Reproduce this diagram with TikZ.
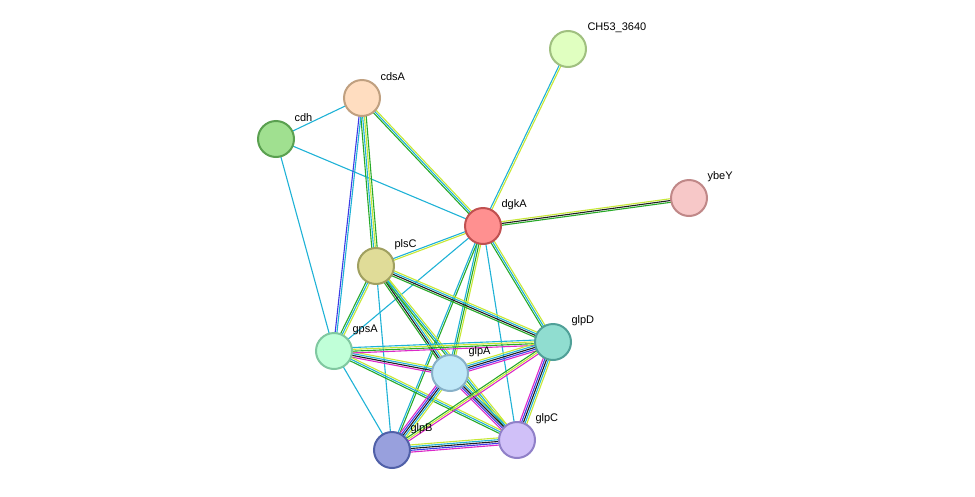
\documentclass[tikz,border=0pt]{standalone}
\usepackage{fontspec}
\setsansfont{Liberation Sans}
\usetikzlibrary{calc}
\definecolor{tmYel}{RGB}{199,232,54}
\definecolor{dbCyan}{RGB}{31,178,214}
\definecolor{nbGreen}{RGB}{40,170,40}
\definecolor{exMag}{RGB}{220,40,200}
\definecolor{coBlue}{RGB}{60,60,230}
\definecolor{cxBlack}{RGB}{30,30,30}
\tikzset{
    prot/.style={circle, minimum size=36pt, inner sep=0pt, line width=2pt},
    plabel/.style={font=\sffamily\fontsize{11}{13}\selectfont, anchor=west},
    chan/.style={line width=1.1pt}
}
% parallel channels between two proteins
\newcommand{\lnk}[4]{%
  \foreach \cc [count=\i] in {#4}{
    \pgfmathsetmacro{\off}{(\i-(#3+1)/2)*1.8}
    \draw[chan, \cc] ($(#1)!\off pt!90:(#2)$) -- ($(#2)!\off pt!-90:(#1)$);
  }}
\begin{document}
\begin{tikzpicture}[x=1pt, y=-1pt]
  \useasboundingbox (0,0) rectangle (975,496);

  % coordinates of proteins
  \coordinate (ch) at (568,49);
  \coordinate (cds) at (362,98);
  \coordinate (cdh) at (276,139);
  \coordinate (dgk) at (483,226);
  \coordinate (ybe) at (689,198);
  \coordinate (pls) at (376,266);
  \coordinate (gps) at (334,351);
  \coordinate (gla) at (450,373);
  \coordinate (gld) at (553,342);
  \coordinate (glb) at (392,450);
  \coordinate (glc) at (517,440);

  % Edges
  \lnk{ch}{dgk}{2}{dbCyan,tmYel}
  \lnk{cds}{cdh}{1}{dbCyan}
  \lnk{cdh}{dgk}{1}{dbCyan}
  \lnk{cdh}{gps}{1}{dbCyan}
  \lnk{cds}{dgk}{3}{nbGreen,dbCyan,tmYel}
  \lnk{cds}{pls}{4}{nbGreen,dbCyan,tmYel,nbGreen}
  \lnk{cds}{gps}{2}{coBlue,dbCyan}
  \lnk{dgk}{ybe}{3}{nbGreen,cxBlack,tmYel}
  \lnk{dgk}{pls}{2}{dbCyan,tmYel}
  \lnk{dgk}{gps}{1}{dbCyan}
  \lnk{dgk}{gla}{3}{dbCyan,nbGreen,tmYel}
  \lnk{dgk}{gld}{3}{nbGreen,dbCyan,tmYel}
  \lnk{dgk}{glb}{2}{dbCyan,nbGreen}
  \lnk{dgk}{glc}{1}{dbCyan}
  \lnk{pls}{gps}{3}{nbGreen,dbCyan,tmYel}
  \lnk{pls}{gla}{4}{nbGreen,cxBlack,dbCyan,tmYel}
  \lnk{pls}{gld}{4}{nbGreen,cxBlack,dbCyan,tmYel}
  \lnk{pls}{glb}{1}{dbCyan}
  \lnk{pls}{glc}{3}{nbGreen,dbCyan,tmYel}
  \lnk{gps}{gla}{4}{exMag,cxBlack,dbCyan,tmYel}
  \lnk{gps}{gld}{4}{exMag,nbGreen,tmYel,dbCyan}
  \lnk{gps}{glb}{1}{dbCyan}
  \lnk{gps}{glc}{3}{nbGreen,dbCyan,tmYel}
  \lnk{gla}{gld}{5}{exMag,coBlue,cxBlack,dbCyan,tmYel}
  \lnk{gla}{glb}{5}{exMag,coBlue,cxBlack,dbCyan,tmYel}
  \lnk{gla}{glc}{5}{exMag,coBlue,cxBlack,dbCyan,tmYel}
  \lnk{gld}{glb}{3}{nbGreen,tmYel,exMag}
  \lnk{gld}{glc}{5}{exMag,coBlue,cxBlack,dbCyan,tmYel}
  \lnk{glb}{glc}{5}{exMag,coBlue,cxBlack,dbCyan,tmYel}

  % Proteins
  \node[prot, fill={rgb,255:red,224;green,255;blue,192}, draw={rgb,255:red,160;green,192;blue,128}] (chN) at (ch) {};
  \node[prot, fill={rgb,255:red,255;green,221;blue,192}, draw={rgb,255:red,192;green,160;blue,128}] (cdsN) at (cds) {};
  \node[prot, fill={rgb,255:red,160;green,224;blue,144}, draw={rgb,255:red,90;green,160;blue,80}] (cdhN) at (cdh) {};
  \node[prot, fill={rgb,255:red,255;green,144;blue,144}, draw={rgb,255:red,192;green,80;blue,80}] (dgkN) at (dgk) {};
  \node[prot, fill={rgb,255:red,247;green,200;blue,200}, draw={rgb,255:red,192;green,136;blue,136}] (ybeN) at (ybe) {};
  \node[prot, fill={rgb,255:red,224;green,220;blue,152}, draw={rgb,255:red,160;green,160;blue,96}] (plsN) at (pls) {};
  \node[prot, fill={rgb,255:red,192;green,255;blue,216}, draw={rgb,255:red,128;green,200;blue,160}] (gpsN) at (gps) {};
  \node[prot, fill={rgb,255:red,192;green,232;blue,248}, draw={rgb,255:red,136;green,176;blue,200}] (glaN) at (gla) {};
  \node[prot, fill={rgb,255:red,144;green,221;blue,208}, draw={rgb,255:red,80;green,160;blue,152}] (gldN) at (gld) {};
  \node[prot, fill={rgb,255:red,152;green,160;blue,221}, draw={rgb,255:red,80;green,96;blue,168}] (glbN) at (glb) {};
  \node[prot, fill={rgb,255:red,208;green,192;blue,248}, draw={rgb,255:red,144;green,128;blue,200}] (glcN) at (glc) {};

  % Labels
  \node[plabel] at ($(ch)+(16,-21)$) {CH53\_3640};
  \node[plabel] at ($(cds)+(15,-21)$) {cdsA};
  \node[plabel] at ($(cdh)+(15,-21)$) {cdh};
  \node[plabel] at ($(dgk)+(15,-21)$) {dgkA};
  \node[plabel] at ($(ybe)+(15,-21)$) {ybeY};
  \node[plabel] at ($(pls)+(15,-21)$) {plsC};
  \node[plabel] at ($(gps)+(15,-21)$) {gpsA};
  \node[plabel] at ($(gla)+(15,-21)$) {glpA};
  \node[plabel] at ($(gld)+(15,-21)$) {glpD};
  \node[plabel] at ($(glb)+(15,-21)$) {glpB};
  \node[plabel] at ($(glc)+(15,-21)$) {glpC};
\end{tikzpicture}
\end{document}
